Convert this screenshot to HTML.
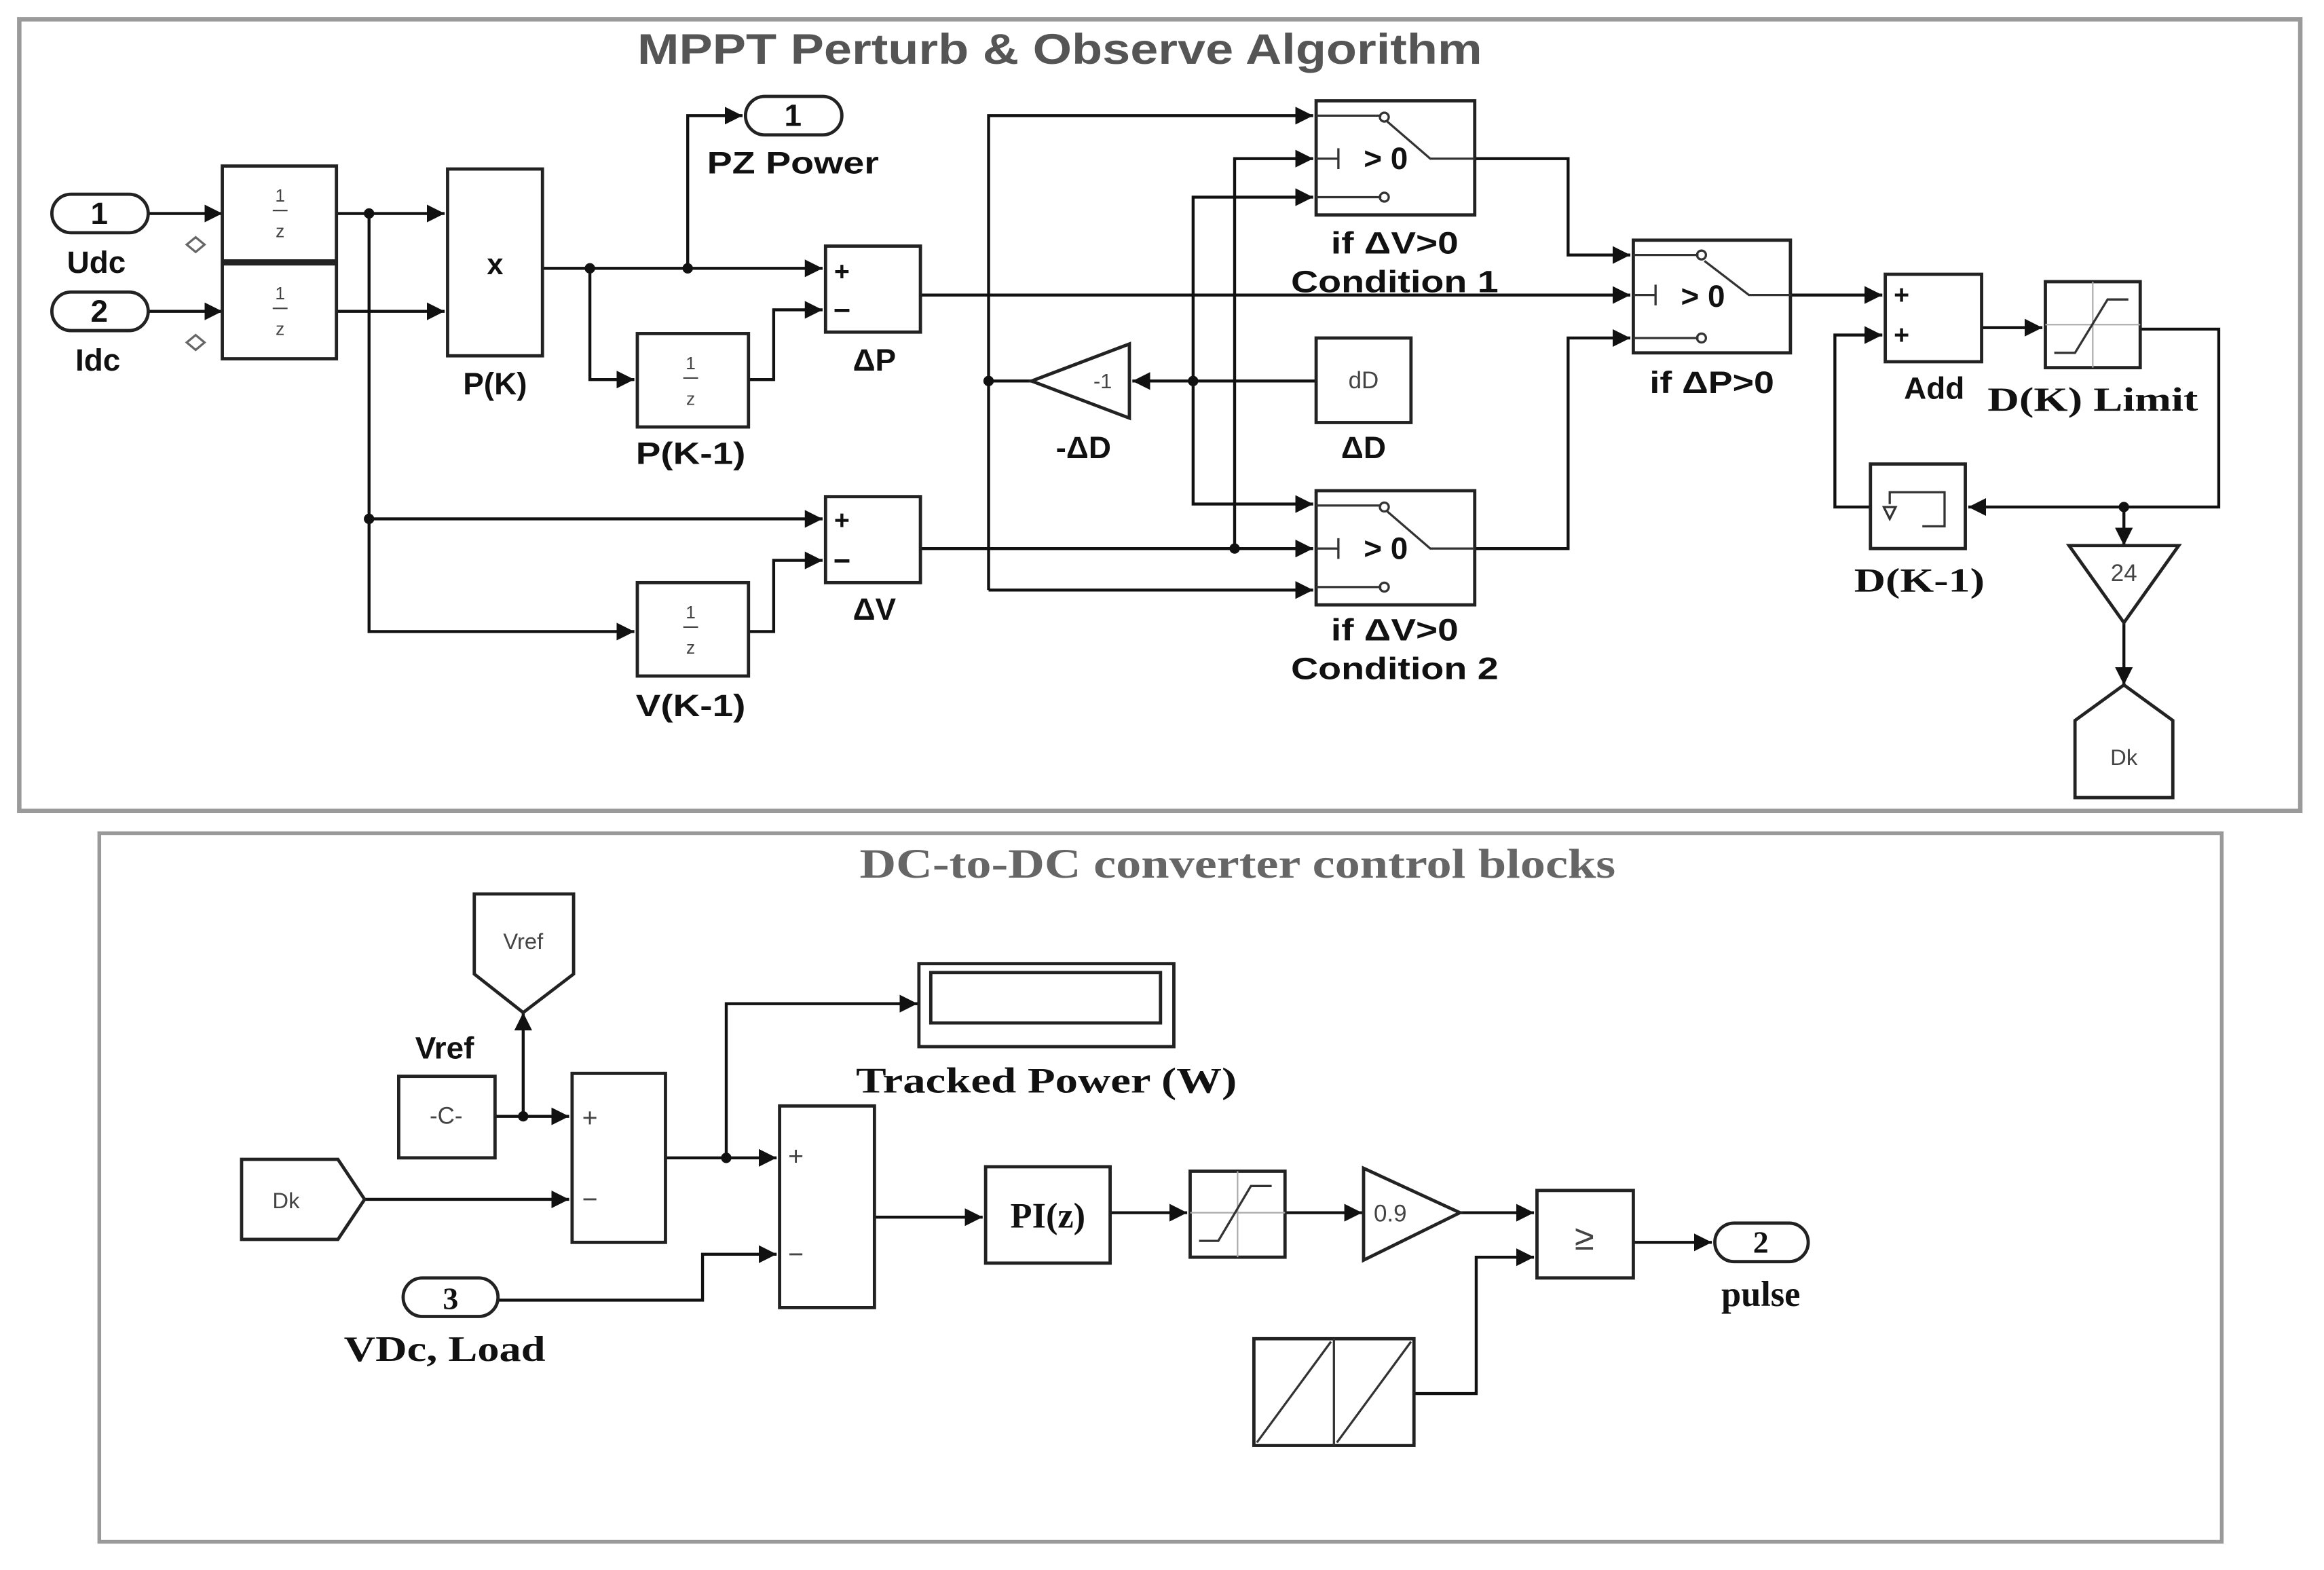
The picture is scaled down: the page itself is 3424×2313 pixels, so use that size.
<!DOCTYPE html>
<html><head><meta charset="utf-8"><style>
html,body{margin:0;padding:0;background:#fff;}
svg{display:block;}
.s{font-family:"Liberation Sans",sans-serif;font-weight:bold;}
.r{font-family:"Liberation Serif",serif;font-weight:bold;}
</style></head><body>
<svg width="3424" height="2313" viewBox="0 0 1568 1059" preserveAspectRatio="none" xmlns="http://www.w3.org/2000/svg">
<defs>
<marker id="a" markerUnits="userSpaceOnUse" markerWidth="14" markerHeight="12" refX="12" refY="6" orient="auto"><path d="M0,0 L12,6 L0,12 Z" fill="#111"/></marker>
</defs>
<rect width="1568" height="1059" fill="#fff"/>
<rect x="13" y="13" width="1539" height="534" fill="none" stroke="#9a9a9a" stroke-width="3"/>
<rect x="67" y="562" width="1432" height="478" fill="none" stroke="#9a9a9a" stroke-width="2.5"/>
<text x="430" y="43" class="s" font-size="29" fill="#555" textLength="570" lengthAdjust="spacingAndGlyphs">MPPT Perturb &amp; Observe Algorithm</text>
<text x="580" y="592" class="r" font-size="28" fill="#666" textLength="510" lengthAdjust="spacingAndGlyphs">DC-to-DC converter control blocks</text>

<g fill="none" stroke="#111" stroke-width="2">
<path d="M100,144 H150" marker-end="url(#a)"/>
<path d="M100,210 H150" marker-end="url(#a)"/>
<path d="M227,144 H300" marker-end="url(#a)"/>
<path d="M227,210 H300" marker-end="url(#a)"/>
<path d="M249,144 V426 H428" marker-end="url(#a)"/>
<path d="M249,350 H555" marker-end="url(#a)"/>
<path d="M366,181 H555" marker-end="url(#a)"/>
<path d="M464,181 V78 H501" marker-end="url(#a)"/>
<path d="M398,181 V256 H428" marker-end="url(#a)"/>
<path d="M505,256 H522 V209 H555" marker-end="url(#a)"/>
<path d="M505,426 H522 V378 H555" marker-end="url(#a)"/>
<path d="M621,199 H1100" marker-end="url(#a)"/>
<path d="M621,370 H886" marker-end="url(#a)"/>
<path d="M888,257 H764" marker-end="url(#a)"/>
<path d="M696,257 H667"/>
<path d="M667,398 V78 H886" marker-end="url(#a)"/>
<path d="M667,398 H886" marker-end="url(#a)"/>
<path d="M805,257 V133 H886" marker-end="url(#a)"/>
<path d="M805,257 V340 H886" marker-end="url(#a)"/>
<path d="M833,370 V107 H886" marker-end="url(#a)"/>
<path d="M995,107 H1058 V172 H1100" marker-end="url(#a)"/>
<path d="M995,370 H1058 V228 H1100" marker-end="url(#a)"/>
<path d="M1208,199 H1270" marker-end="url(#a)"/>
<path d="M1337,221 H1378" marker-end="url(#a)"/>
<path d="M1444,222 H1497 V342 H1328" marker-end="url(#a)"/>
<path d="M1262,342 H1238 V226 H1270" marker-end="url(#a)"/>
<path d="M1433,342 V368" marker-end="url(#a)"/>
<path d="M1433,420 V462" marker-end="url(#a)"/>
<path d="M334,753 H384" marker-end="url(#a)"/>
<path d="M353,753 V683" marker-end="url(#a)"/>
<path d="M246,809 H384" marker-end="url(#a)"/>
<path d="M449,781 H524" marker-end="url(#a)"/>
<path d="M490,781 V677 H619" marker-end="url(#a)"/>
<path d="M336,877 H474 V846 H524" marker-end="url(#a)"/>
<path d="M590,821 H663" marker-end="url(#a)"/>
<path d="M749,818 H801" marker-end="url(#a)"/>
<path d="M867,818 H919" marker-end="url(#a)"/>
<path d="M985,818 H1035" marker-end="url(#a)"/>
<path d="M954,940 H996 V848 H1035" marker-end="url(#a)"/>
<path d="M1102,838 H1155" marker-end="url(#a)"/>
</g>
<g fill="#111">
<circle cx="249" cy="144" r="3.5"/><circle cx="249" cy="350" r="3.5"/>
<circle cx="398" cy="181" r="3.5"/><circle cx="464" cy="181" r="3.5"/>
<circle cx="667" cy="257" r="3.5"/><circle cx="805" cy="257" r="3.5"/>
<circle cx="833" cy="370" r="3.5"/><circle cx="1433" cy="342" r="3.5"/>
<circle cx="353" cy="753" r="3.5"/><circle cx="490" cy="781" r="3.5"/>
</g>

<g fill="#fff" stroke="#222" stroke-width="2.2">
<rect x="35" y="131" width="65" height="26" rx="13"/>
<rect x="35" y="197" width="65" height="26" rx="13"/>
<rect x="503" y="65" width="65" height="26" rx="13"/>
<rect x="150" y="112" width="77" height="64"/>
<rect x="150" y="178" width="77" height="64"/>
<rect x="302" y="114" width="64" height="126"/>
<rect x="430" y="225" width="75" height="63"/>
<rect x="430" y="393" width="75" height="63"/>
<rect x="557" y="166" width="64" height="58"/>
<rect x="557" y="335" width="64" height="58"/>
<rect x="888" y="68" width="107" height="77"/>
<rect x="888" y="331" width="107" height="77"/>
<rect x="1102" y="162" width="106" height="76"/>
<rect x="888" y="228" width="64" height="57"/>
<polygon points="762,232 762,282 696,257"/>
<rect x="1272" y="185" width="65" height="59"/>
<rect x="1380" y="190" width="64" height="58"/>
<rect x="1262" y="313" width="64" height="57"/>
<polygon points="1396,368 1470,368 1433,420"/>
<polygon points="1433,462 1466,486 1466,538 1400,538 1400,486"/>
</g>
<g fill="none" stroke="#333" stroke-width="1.5">
<path d="M132,160 l6,5 l-6,5 l-6,-5 z" stroke="#666"/>
<path d="M132,226 l6,5 l-6,5 l-6,-5 z" stroke="#666"/>
<path d="M888,78 H932 M936,82 L965,107 H995 M888,133 H932 M903,100 V114 M888,107 H903"/>
<circle cx="934" cy="79" r="3"/><circle cx="934" cy="133" r="3"/>
<path d="M888,341 H932 M936,345 L965,370 H995 M888,396 H932 M903,363 V377 M888,370 H903"/>
<circle cx="934" cy="342" r="3"/><circle cx="934" cy="396" r="3"/>
<path d="M1102,172 H1146 M1150,176 L1180,199 H1208 M1102,228 H1146 M1117,192 V206 M1102,199 H1117"/>
<circle cx="1148" cy="172" r="3"/><circle cx="1148" cy="228" r="3"/>
<path d="M1380,219 H1444 M1412,190 V248" stroke="#aaa" stroke-width="1"/>
<path d="M1386,238 H1400 L1422,202 H1436"/>
<path d="M1275,340 V332 H1312 V355 H1297 M1271,342 L1279,342 L1275,350 Z"/>
</g>
<g class="s" fill="#111" text-anchor="middle">
<text x="67" y="151" font-size="21">1</text>
<text x="67" y="217" font-size="21">2</text>
<text x="535" y="85" font-size="21">1</text>
<text x="65" y="184" font-size="21">Udc</text>
<text x="66" y="250" font-size="21">Idc</text>
<text x="535" y="117" font-size="21" textLength="116" lengthAdjust="spacingAndGlyphs">PZ Power</text>
<text x="334" y="185" font-size="20">x</text>
<text x="334" y="266" font-size="21">P(K)</text>
<text x="466" y="313" font-size="21" textLength="74" lengthAdjust="spacingAndGlyphs">P(K-1)</text>
<text x="466" y="483" font-size="21" textLength="74" lengthAdjust="spacingAndGlyphs">V(K-1)</text>
<text x="590" y="250" font-size="21">ΔP</text>
<text x="590" y="418" font-size="21">ΔV</text>
<text x="568" y="189" font-size="18">+</text><text x="568" y="216" font-size="20">−</text>
<text x="568" y="357" font-size="18">+</text><text x="568" y="385" font-size="20">−</text>
<text x="935" y="114" font-size="21">&gt; 0</text>
<text x="935" y="377" font-size="21">&gt; 0</text>
<text x="1149" y="207" font-size="21">&gt; 0</text>
<text x="941" y="171" font-size="21" textLength="86" lengthAdjust="spacingAndGlyphs">if ΔV&gt;0</text>
<text x="941" y="197" font-size="21" textLength="140" lengthAdjust="spacingAndGlyphs">Condition 1</text>
<text x="941" y="432" font-size="21" textLength="86" lengthAdjust="spacingAndGlyphs">if ΔV&gt;0</text>
<text x="941" y="458" font-size="21" textLength="140" lengthAdjust="spacingAndGlyphs">Condition 2</text>
<text x="1155" y="265" font-size="21" textLength="84" lengthAdjust="spacingAndGlyphs">if ΔP&gt;0</text>
<text x="731" y="309" font-size="21">-ΔD</text>
<text x="920" y="309" font-size="21">ΔD</text>
<text x="1305" y="269" font-size="21">Add</text>
<text x="1283" y="205" font-size="18">+</text><text x="1283" y="232" font-size="18">+</text>
</g>
<g font-family="Liberation Sans,sans-serif" fill="#444" text-anchor="middle">
<text x="189" y="136" font-size="12">1</text><line x1="184" y1="142" x2="194" y2="142" stroke="#444"/><text x="189" y="160" font-size="12">z</text>
<text x="189" y="202" font-size="12">1</text><line x1="184" y1="208" x2="194" y2="208" stroke="#444"/><text x="189" y="226" font-size="12">z</text>
<text x="466" y="249" font-size="12">1</text><line x1="461" y1="255" x2="471" y2="255" stroke="#444"/><text x="466" y="273" font-size="12">z</text>
<text x="466" y="417" font-size="12">1</text><line x1="461" y1="423" x2="471" y2="423" stroke="#444"/><text x="466" y="441" font-size="12">z</text>
<text x="920" y="262" font-size="16">dD</text>
<text x="744" y="262" font-size="14">-1</text>
<text x="1433" y="392" font-size="16">24</text>
<text x="1433" y="516" font-size="15">Dk</text>
</g>
<g class="r" fill="#111" text-anchor="middle">
<text x="1412" y="277" font-size="23" textLength="142" lengthAdjust="spacingAndGlyphs">D(K) Limit</text>
<text x="1295" y="399" font-size="23" textLength="88" lengthAdjust="spacingAndGlyphs">D(K-1)</text>
</g>

<g fill="#fff" stroke="#222" stroke-width="2.2">
<polygon points="320,603 387,603 387,657 353,683 320,657"/>
<rect x="269" y="726" width="65" height="55"/>
<polygon points="163,782 228,782 246,809 228,836 163,836"/>
<rect x="386" y="724" width="63" height="114"/>
<rect x="526" y="746" width="64" height="136"/>
<rect x="620" y="650" width="172" height="56"/>
<rect x="628" y="656" width="155" height="34"/>
<rect x="272" y="862" width="64" height="26" rx="13"/>
<rect x="665" y="787" width="84" height="65"/>
<rect x="803" y="790" width="64" height="58"/>
<polygon points="920,788 985,818 920,850"/>
<rect x="1037" y="803" width="65" height="59"/>
<rect x="1157" y="825" width="63" height="26" rx="13"/>
<rect x="846" y="903" width="108" height="72"/>
</g>
<g fill="none" stroke="#333" stroke-width="1.5">
<path d="M803,818 H867 M835,790 V848" stroke="#aaa" stroke-width="1"/>
<path d="M809,837 H822 L844,800 H858"/>
<path d="M900,903 V975 M848,973 L898,905 M902,973 L952,905"/>
</g>
<g font-family="Liberation Sans,sans-serif" fill="#444" text-anchor="middle">
<text x="353" y="640" font-size="15">Vref</text>
<text x="301" y="758" font-size="16">-C-</text>
<text x="193" y="815" font-size="15">Dk</text>
<text x="938" y="824" font-size="16">0.9</text>
<text x="398" y="760" font-size="18">+</text><text x="398" y="815" font-size="18">−</text>
<text x="537" y="786" font-size="18">+</text><text x="537" y="852" font-size="18">−</text>
<text x="1069" y="843" font-size="24">≥</text>
</g>
<g class="s" fill="#111" text-anchor="middle">
<text x="300" y="714" font-size="21">Vref</text>
</g>
<g class="r" fill="#111" text-anchor="middle">
<text x="706" y="737" font-size="24" textLength="257" lengthAdjust="spacingAndGlyphs">Tracked  Power (W)</text>
<text x="300" y="918" font-size="24" textLength="136" lengthAdjust="spacingAndGlyphs">VDc, Load</text>
<text x="304" y="883" font-size="21">3</text>
<text x="707" y="828" font-size="24">PI(z)</text>
<text x="1188" y="845" font-size="21">2</text>
<text x="1188" y="881" font-size="24">pulse</text>
</g>
</svg>
</body></html>
